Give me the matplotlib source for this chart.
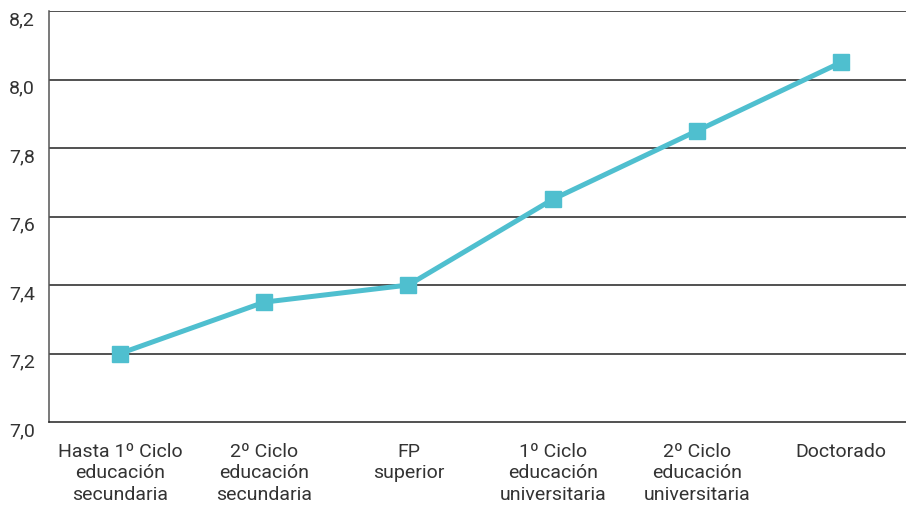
import matplotlib
matplotlib.use("Agg")
import matplotlib.pyplot as plt
import matplotlib.transforms as mtransforms

categories = ["Hasta 1º Ciclo\neducación\nsecundaria", "2º Ciclo\neducación\nsecundaria",
              "FP\nsuperior", "1º Ciclo\neducación\nuniversitaria",
              "2º Ciclo\neducación\nuniversitaria", "Doctorado"]
values = [7.2, 7.35, 7.4, 7.65, 7.85, 8.05]
yticks = [7.0, 7.2, 7.4, 7.6, 7.8, 8.0, 8.2]
ytick_labels = ["7,0", "7,2", "7,4", "7,6", "7,8", "8,0", "8,2"]

plt.rcParams['font.family'] = ['Roboto', 'DejaVu Sans']

fig = plt.figure(figsize=(9.06, 5.09), dpi=100)
W, H = 906, 509
ax = fig.add_axes([49 / W, (H - 422) / H, (W - 49) / W, (422 - 11) / H])

x = list(range(len(categories)))
ax.plot(x, values, color="#4FBFCF", linewidth=3.6, marker="s", markersize=12,
        markerfacecolor="#4FBFCF", markeredgecolor="#4FBFCF", zorder=3, clip_on=False)

ax.set_ylim(7.0, 8.2)
ax.set_xlim(-0.493, 5.45)
ax.set_yticks(yticks)
ax.set_yticklabels(ytick_labels)
ax.set_xticks(x)
ax.set_xticklabels(categories, linespacing=1.25)

for yv in yticks[1:]:
    ax.axhline(yv, color="#222222", linewidth=1.1, zorder=1)

for s in ["top", "right"]:
    ax.spines[s].set_visible(False)
ax.spines["left"].set_color("#555555")
ax.spines["left"].set_linewidth(1.1)
ax.spines["bottom"].set_color("#222222")
ax.spines["bottom"].set_linewidth(1.1)

ax.tick_params(axis="both", length=0, labelsize=14, colors="#333333")
ax.tick_params(axis="y", pad=10)
ax.tick_params(axis="x", pad=15)

offset = mtransforms.ScaledTranslation(0, -7 / 100, fig.dpi_scale_trans)
for lbl in ax.get_yticklabels():
    lbl.set_transform(lbl.get_transform() + offset)

fig.savefig("out.png", dpi=100)
